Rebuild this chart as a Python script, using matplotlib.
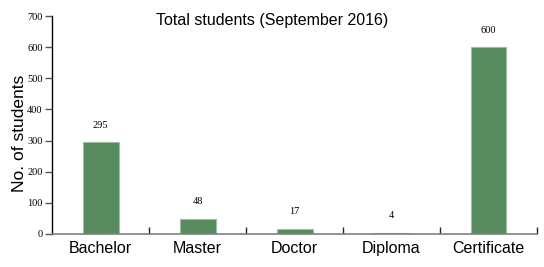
import matplotlib.pyplot as plt
import numpy as np

categories = ["Bachelor", "Master", "Doctor", "Diploma", "Certificate"]
students = [295, 48, 17, 4, 600]

fig = plt.figure(figsize=(5.44, 2.67), dpi=100)
ax = fig.add_axes([0.096, 0.124, 0.891, 0.816])

x = np.arange(len(categories))
ax.bar(x, students, width=0.37, color="#578a5e", edgecolor="#9cbf9f", linewidth=0.8)

for xi, v in zip(x, students):
    ax.annotate(str(v), (xi, v), xytext=(0, 9), textcoords="offset points",
                ha="center", va="bottom", fontsize=7.5, family="Liberation Serif")

ax.set_xlim(-0.5, len(categories) - 0.5)
ax.set_ylim(0, 700)
ax.set_yticks(range(0, 701, 100))
for lbl in ax.get_yticklabels():
    lbl.set_family("Liberation Serif")
    lbl.set_fontsize(7.5)
ax.tick_params(axis="y", direction="out", length=5, width=1, pad=2, color="#555555")

# category ticks at the boundaries, labels in the middle
ax.set_xticks(x + 0.5)
ax.set_xticklabels([])
ax.set_xticks(x, minor=True)
ax.set_xticklabels(categories, minor=True, fontsize=11.5, family="Liberation Sans")
ax.tick_params(axis="x", which="major", direction="in", length=5, width=1, color="#222222")
ax.tick_params(axis="x", which="minor", length=0, pad=5)

ax.spines["top"].set_visible(False)
ax.spines["right"].set_visible(False)
ax.spines["left"].set_linewidth(1)
ax.spines["bottom"].set_color("#808080")
ax.spines["bottom"].set_linewidth(1.2)

ax.set_ylabel("No. of students", fontsize=12.5, family="Liberation Sans")
ax.yaxis.set_label_coords(-0.053, 0.46)
fig.text(0.5, 0.925, "Total students (September 2016)", ha="center", va="center",
         fontsize=11.5, family="Liberation Sans")

fig.savefig("out.png", dpi=100)
